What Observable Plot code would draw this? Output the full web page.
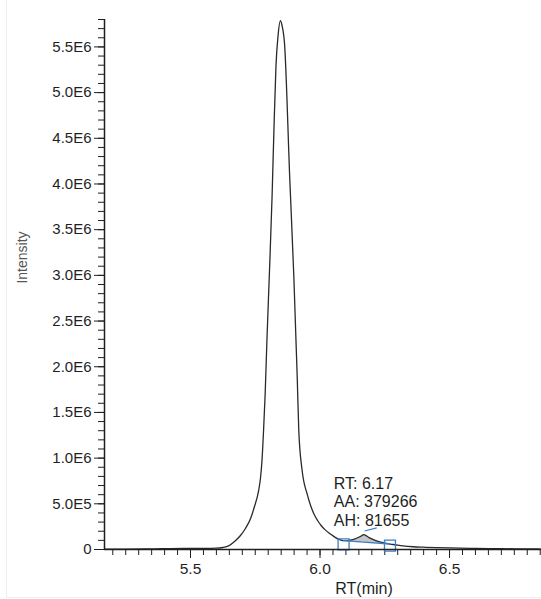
<!DOCTYPE html>
<html><head><meta charset="utf-8">
<script src="https://cdn.jsdelivr.net/npm/d3@7"></script>
<script src="https://cdn.jsdelivr.net/npm/@observablehq/plot@0.6"></script>
<style>
body{margin:0;background:#fff;}
#chart{position:relative;width:541px;height:599px;overflow:hidden;}
#chart svg{display:block;}
#edge{position:absolute;left:6px;top:0;width:600px;height:597px;border-left:1px solid #eceef4;border-bottom:1px solid #eceef4;pointer-events:none;}
</style></head><body><div id="chart"><div id="edge"></div></div>
<script>
// Chromatogram trace (retention time in min, intensity)
const rt = [5.168, 5.25, 5.346, 5.42, 5.50, 5.56, 5.60, 5.624, 5.647, 5.670, 5.693, 5.712, 5.732, 5.747, 5.763, 5.770, 5.776, 5.782, 5.788, 5.795, 5.805, 5.815, 5.822, 5.830, 5.838, 5.847, 5.853, 5.863, 5.883, 5.899, 5.912, 5.918, 5.931, 5.951, 5.965, 5.978, 5.990, 6.005, 6.020, 6.040, 6.060, 6.079, 6.091, 6.105, 6.130, 6.156, 6.169, 6.189, 6.215, 6.247, 6.270, 6.290, 6.320, 6.360, 6.400, 6.450, 6.500, 6.600, 6.700, 6.800, 6.855];
const intensity = [5000, 5000, 6000, 10000, 12000, 11000, 14000, 22000, 40000, 88000, 153000, 230000, 340000, 470000, 645000, 777000, 974000, 1302000, 1685000, 2287000, 3053000, 3873000, 4584000, 5295000, 5624000, 5788000, 5740000, 5536000, 4073000, 2979000, 1885000, 1302000, 864000, 600000, 470000, 380000, 320000, 260000, 215000, 170000, 130000, 105000, 97000, 98000, 110000, 142000, 162000, 130000, 98000, 72000, 60000, 52000, 40000, 30000, 25000, 20000, 17000, 12000, 9000, 6000, 5000];

// Integrated peak
const peakBounds = [6.091, 6.270];          // start / end of integration
const boxMarkerY = [57000, 42000];           // boundary marker boxes
const peakRT = "6.17";
const peakAA = 379266;
const peakAH = 81655;

// Axes
const xDomain = [5.168, 6.855];
const yMax = 5.8e6;
const xTicks = [5.5, 6.0, 6.5];
const xTickLabels = ["5.5", "6.0", "6.5"];
const yTicks = [0, 5e5, 1e6, 1.5e6, 2e6, 2.5e6, 3e6, 3.5e6, 4e6, 4.5e6, 5e6, 5.5e6];
const yTickLabels = ["0", "5.0E5", "1.0E6", "1.5E6", "2.0E6", "2.5E6", "3.0E6", "3.5E6", "4.0E6", "4.5E6", "5.0E6", "5.5E6"];
const xMinor = d3.range(104, 138).map(i => i / 20);
const yMinor = d3.range(0, 59).map(i => i * 1e5);

const trace = rt.map((r, i) => ({rt: r, v: intensity[i]}));
const i0 = rt.indexOf(peakBounds[0]);
const i1 = rt.indexOf(peakBounds[1]);
const b0 = intensity[i0], b1 = intensity[i1];
const baseAt = r => b0 + (b1 - b0) * (r - peakBounds[0]) / (peakBounds[1] - peakBounds[0]);
const peakArea = trace.slice(i0, i1 + 1).map(d => ({...d, base: baseAt(d.rt)}));
const apex = peakArea.reduce((a, d) => (d.v - d.base > a.v - a.base ? d : a));

const xLab = new Map(xTicks.map((v, i) => [v, xTickLabels[i]]));
const yLab = new Map(yTicks.map((v, i) => [v, yTickLabels[i]]));
const ink = "#1f1f1f";
const blue = "#3d7fc4";

const chart = Plot.plot({
  width: 541, height: 599,
  marginLeft: 104, marginRight: 0, marginTop: 19, marginBottom: 50,
  style: {fontFamily: "'Liberation Sans', Arial, sans-serif", fontSize: "15px", background: "white", color: ink},
  x: {domain: xDomain},
  y: {domain: [0, yMax]},
  marks: [
    Plot.axisY(yMinor, {tickSize: 6, tickFormat: () => "", label: null, stroke: ink}),
    Plot.axisY(yTicks, {tickSize: 10, tickPadding: 3, tickFormat: d => yLab.get(d), label: null, stroke: ink, fill: ink, fontSize: 15}),
    Plot.axisX(xMinor, {tickSize: 6, tickFormat: () => "", label: null, stroke: ink}),
    Plot.axisX(xTicks, {tickSize: 9, tickPadding: 4, tickFormat: d => xLab.get(d), label: null, stroke: ink, fill: ink, fontSize: 15.5}),
    Plot.areaY(peakArea, {x: "rt", y1: "base", y2: "v", fill: "#c6c6c6", curve: "monotone-x"}),
    Plot.line(trace, {x: "rt", y: "v", stroke: "#2a2a2a", strokeWidth: 1.3, curve: "monotone-x"}),
    Plot.line(peakBounds, {x: d => d, y: d => baseAt(d), stroke: blue, strokeWidth: 1.4}),
    Plot.dot(peakBounds, {x: d => d, y: (d, i) => boxMarkerY[i], symbol: "square", r: 6.2, stroke: blue, strokeWidth: 1.3, fill: "none"}),
    Plot.link([apex], {x1: d => d.rt + 0.003, y1: d => d.v + 40000, x2: d => d.rt + 0.05, y2: d => d.v + 75000, stroke: blue, strokeWidth: 1.2}),
    Plot.text([apex], {x: "rt", y: "v", text: () => `RT: ${peakRT}\nAA: ${peakAA}\nAH: ${peakAH}`, dx: -30, dy: -8.5, textAnchor: "start", lineAnchor: "bottom", lineHeight: 1.17, fontSize: 16, fill: ink}),
    Plot.ruleX([xDomain[0]], {y1: 0, y2: yMax, stroke: ink, strokeWidth: 1.5}),
    Plot.ruleY([0], {stroke: ink, strokeWidth: 1.5}),
    Plot.text(["RT(min)"], {frameAnchor: "bottom", dx: 41, dy: 44, lineAnchor: "bottom", fontSize: 16, fill: ink}),
    Plot.text(["Intensity"], {frameAnchor: "left", textAnchor: "middle", lineAnchor: "middle", rotate: -90, dx: -82, dy: -27, fontSize: 14, fill: "#555"})
  ]
});
document.getElementById("chart").prepend(chart);
</script>
</body></html>
